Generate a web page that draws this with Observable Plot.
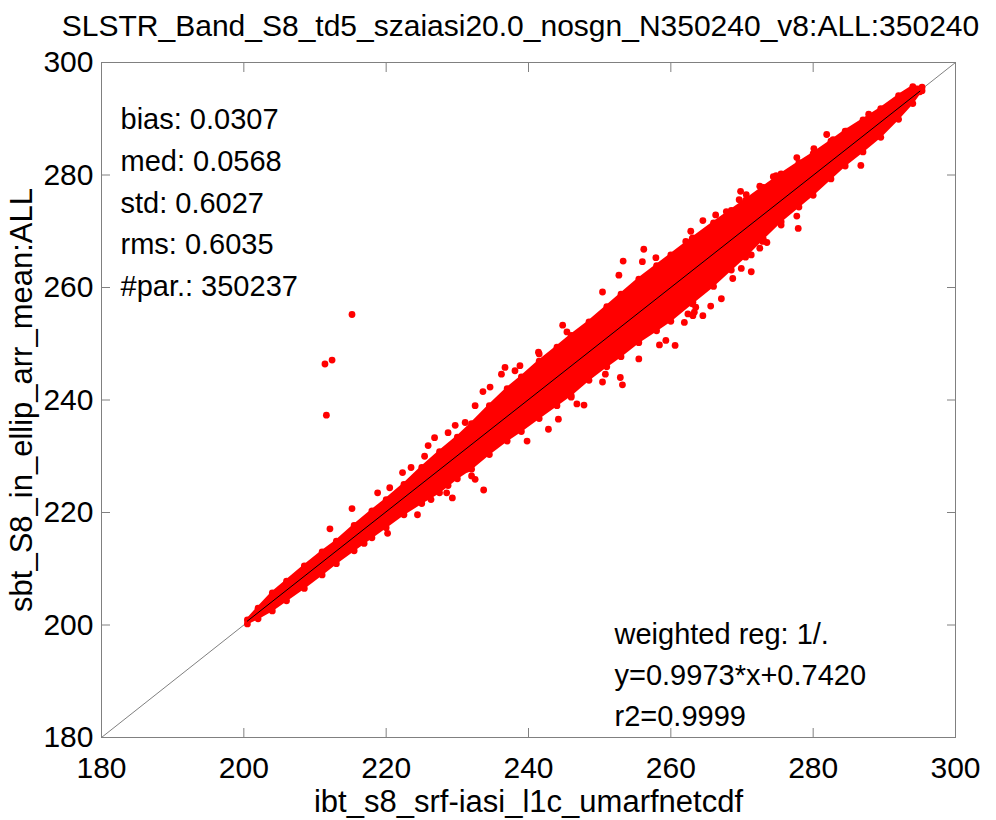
<!DOCTYPE html>
<html>
<head>
<meta charset="utf-8">
<script src="https://cdn.jsdelivr.net/npm/d3@7"></script>
<script src="https://cdn.jsdelivr.net/npm/@observablehq/plot@0.6"></script>
<style>
  html, body { margin: 0; padding: 0; background: #fff; }
</style>
</head>
<body>
<div id="chart"></div>
<script>
// ---- Text ----
const titleText = "SLSTR_Band_S8_td5_szaiasi20.0_nosgn_N350240_v8:ALL:350240";
const xLabel = "ibt_s8_srf-iasi_l1c_umarfnetcdf";
const yLabel = "sbt_S8_in_ellip_arr_mean:ALL";
const statsLines = ["bias: 0.0307", "med: 0.0568", "std: 0.6027", "rms: 0.6035", "#par.: 350237"];
const regLines = ["weighted reg: 1/.", "y=0.9973*x+0.7420", "r2=0.9999"];

// ---- Ticks ----
const xTicks = [180, 200, 220, 240, 260, 280, 300];
const yTicks = [180, 200, 220, 240, 260, 280, 300];

// ---- Dense point cloud: envelope ----
const bandX  = [200.5, 202, 204, 206, 208.5, 211, 213, 215.5, 218, 220, 222.5, 225, 227.5, 230, 232, 234.5, 237, 239, 241.5, 244, 246, 248.5, 251, 253, 255.5, 258, 260, 263, 266, 268.5, 270.5, 273, 275.5, 278, 280, 282.5, 284.5, 287, 289.5, 292, 294, 295.3];
const bandHi = [200.9, 203.0, 205.7, 207.8, 210.5, 213.0, 214.9, 217.7, 220.3, 222.3, 225.0, 228.0, 230.8, 233.4, 235.8, 239.0, 242.0, 244.1, 246.9, 249.4, 251.5, 253.9, 256.6, 258.8, 261.5, 263.9, 265.8, 268.7, 271.5, 273.7, 275.5, 277.8, 280.1, 282.2, 283.8, 286.0, 287.8, 289.8, 291.8, 294.1, 295.7, 295.6];
const bandLo = [200.2, 201.1, 202.5, 204.3, 206.5, 208.9, 210.9, 213.2, 215.5, 217.3, 219.6, 221.6, 223.5, 226.0, 227.7, 230.3, 232.7, 234.4, 236.7, 239.0, 240.8, 243.5, 245.9, 247.7, 250.2, 252.3, 254.0, 257.1, 260.2, 263.1, 265.4, 268.6, 271.7, 274.3, 276.4, 279.3, 281.6, 284.1, 286.7, 289.9, 292.7, 295.0];

// ---- Scattered individual points ----
const ptX = [215.2, 211.4, 212.4, 211.6, 233.7, 229.3, 232.5, 239.8, 212.1, 215.2, 222.3, 223.5, 225.4, 226.8, 229.7, 224.4, 228.7, 231.3,
             256.2, 253.3, 250.4, 244.8, 241.5, 236.7, 238.8, 233.6, 234.6, 232.5, 242.8, 247.8, 253.2, 252.9, 260.6, 258.4, 261.9, 263.3, 250.8, 246.0,
             295.0, 281.9, 280.1, 277.7, 287.8, 286.7, 277.9, 277.7, 269.8, 269.6, 264.5, 271.3, 267.1, 265.6, 264.5, 272.5, 273.5, 274.4, 275.5, 263.1, 273.9,
             236.2, 238.1, 241.4, 245.4, 252.7, 256.0, 257.9, 262.1, 262.8, 232.7, 244.2, 246.8, 250.4, 255.5, 259.3, 262.4, 263.5,
             218.8, 220.5, 225.9, 228.7, 231.1, 216.9, 220.2, 226.3, 228.5, 232.0,
             274.8, 272.5, 270.6, 267.8, 266.3, 263.1, 282.8, 284.7, 289.9, 292.2, 275.5, 272.9, 271.3, 269.9, 268.7, 263.1];
const ptY = [255.2, 246.4, 247.1, 237.3, 224.0, 222.6, 225.9, 232.7, 217.1, 220.7, 227.1, 228.0, 230.0, 233.3, 235.5, 219.6, 224.8, 227.7,
             266.8, 264.7, 259.2, 253.3, 248.2, 245.8, 246.1, 241.5, 242.3, 239.0, 234.8, 239.1, 242.7, 244.0, 249.7, 249.8, 253.8, 255.6, 244.6, 240.5,
             294.8, 287.2, 284.7, 283.1, 290.8, 281.7, 270.5, 272.7, 277.1, 275.6, 271.9, 262.8, 258.0, 256.7, 255.0, 267.0, 268.0, 279.7, 280.2, 257.4, 278.0,
             244.6, 245.2, 248.5, 252.1, 262.2, 264.6, 265.3, 268.2, 270.0, 231.8, 236.6, 239.3, 243.2, 247.3, 250.6, 255.3, 256.5,
             223.5, 224.4, 231.9, 234.2, 236.0, 214.5, 216.3, 222.3, 223.5, 226.5,
             279.9, 278.0, 276.5, 273.5, 272.9, 268.8, 286.3, 287.8, 291.4, 293.5, 271.1, 268.2, 265.8, 263.4, 261.6, 255.0];

// ---- Lines ----
const oneToOneX = [180, 300];
const oneToOneY = [180, 300];
const regX = [200.5, 295.0];
const regY = [200.7, 294.9];

// ---- Build tables ----
const band = bandX.map((x, i) => ({x, lo: bandLo[i], hi: bandHi[i]}));
const pts = ptX.map((x, i) => ({x, y: ptY[i]}));
const diag = oneToOneX.map((x, i) => ({x, y: oneToOneY[i]}));
const reg = regX.map((x, i) => ({x, y: regY[i]}));

const grey = "#808080";
const red = "#ff0000";
const fs = 29;
const tl = 9; // tick length

const chart = Plot.plot({
  width: 996,
  height: 820,
  marginLeft: 101,
  marginRight: 41,
  marginTop: 62,
  marginBottom: 83,
  x: {domain: [180, 300]},
  y: {domain: [180, 300]},
  style: {fontFamily: "'Liberation Sans', Arial, Helvetica, sans-serif", fontSize: fs + "px", background: "#fff", color: "#000", overflow: "visible"},
  marks: [
    Plot.line(diag, {x: "x", y: "y", stroke: grey, strokeWidth: 1}),
    Plot.areaY(band, {x: "x", y1: "lo", y2: "hi", fill: red, stroke: red, strokeWidth: 2, strokeLinejoin: "round"}),
    // dotted edges of the cloud
    Plot.dot(band, {x: "x", y: "hi", r: 3.4, fill: red, stroke: "none"}),
    Plot.dot(band, {x: "x", y: "lo", r: 3.4, fill: red, stroke: "none"}),
    Plot.dot(pts, {x: "x", y: "y", r: 3.4, fill: red, stroke: "none"}),
    Plot.line(reg, {x: "x", y: "y", stroke: "#000", strokeWidth: 1}),
    Plot.frame({stroke: grey, strokeWidth: 1}),
    // tick labels
    Plot.axisX(xTicks, {anchor: "bottom", tickSize: 0, tickPadding: 19, label: null, fontSize: 30, fill: "#000"}),
    Plot.axisY(yTicks, {anchor: "left", tickSize: 0, tickPadding: 8, label: null, fontSize: 30, fill: "#000"}),
    // inward ticks on all four sides (outward ticks shifted inside the frame)
    Plot.axisX(xTicks, {anchor: "bottom", tickSize: tl, dy: -tl, tickFormat: () => "", label: null, stroke: grey}),
    Plot.axisX(xTicks, {anchor: "top", tickSize: tl, dy: tl, tickFormat: () => "", label: null, stroke: grey}),
    Plot.axisY(yTicks, {anchor: "left", tickSize: tl, dx: tl, tickFormat: () => "", label: null, stroke: grey}),
    Plot.axisY(yTicks, {anchor: "right", tickSize: tl, dx: -tl, tickFormat: () => "", label: null, stroke: grey}),
    // title & axis labels
    Plot.text([titleText], {text: d => d, frameAnchor: "top", textAnchor: "middle", lineAnchor: "middle", dy: -36, dx: -8, fontSize: 30, fill: "#000"}),
    Plot.text([xLabel], {text: d => d, frameAnchor: "bottom", textAnchor: "middle", lineAnchor: "middle", dy: 65, fontSize: 31, fill: "#000"}),
    Plot.text([yLabel], {text: d => d, frameAnchor: "left", textAnchor: "middle", lineAnchor: "middle", dx: -79, rotate: -90, fontSize: 31, fill: "#000"}),
    // annotations
    Plot.text([statsLines.join("\n")], {text: d => d, frameAnchor: "top-left", dx: 19, dy: 37, textAnchor: "start", lineAnchor: "top", lineHeight: 1.44, fontSize: fs, fill: "#000"}),
    Plot.text([regLines.join("\n")], {text: d => d, frameAnchor: "top-left", dx: 513, dy: 553, textAnchor: "start", lineAnchor: "top", lineHeight: 1.4, fontSize: fs, fill: "#000"})
  ]
});
document.getElementById("chart").appendChild(chart);
</script>
</body>
</html>
